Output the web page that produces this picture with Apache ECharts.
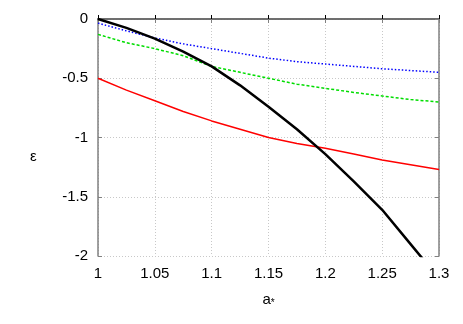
<!DOCTYPE html>
<html>
<head>
<meta charset="utf-8">
<script src="https://cdn.jsdelivr.net/npm/echarts@6/dist/echarts.min.js"></script>
<style>
  html, body { margin: 0; padding: 0; background: #fff; }
  #chart { width: 463px; height: 324px; }
</style>
</head>
<body>
<div id="chart"></div>
<script>
// x values (a*)
var aStar = [1.0, 1.025, 1.05, 1.075, 1.1, 1.125, 1.15, 1.175, 1.2, 1.225, 1.25, 1.275, 1.3]
// epsilon curves
var blueVals = [-0.035, -0.1, -0.16, -0.21, -0.25, -0.29, -0.33, -0.36, -0.38, -0.4, -0.42, -0.435, -0.45]
var greenVals = [-0.13, -0.2, -0.25, -0.31, -0.4, -0.45, -0.5, -0.55, -0.585, -0.62, -0.65, -0.68, -0.7]
var redVals = [-0.5, -0.6, -0.69, -0.78, -0.86, -0.93, -1.0, -1.05, -1.09, -1.14, -1.19, -1.23, -1.27]
var blackVals = [0, -0.075, -0.165, -0.275, -0.4, -0.56, -0.74, -0.93, -1.14, -1.37, -1.61, -1.9, -2.19]

function pairs(ys) {
  return aStar.map(function (x, i) { return [x, ys[i]] })
}

var chart = echarts.init(document.getElementById('chart'))
var font = 'Liberation Sans'
var gridLine = { show: true, lineStyle: { color: '#c8c8c8', type: [1, 2], width: 1 } }

chart.setOption({
  animation: false,
  grid: { left: 98, right: 24, top: 19, bottom: 68 },
  xAxis: [{
    type: 'value', min: 1, max: 1.3, interval: 0.05,
    axisLine: { lineStyle: { color: '#000', width: 1.5 } },
    axisTick: { inside: true, length: 4, lineStyle: { color: '#000' } },
    axisLabel: { color: '#000', fontFamily: font, fontSize: 15, margin: 10 },
    splitLine: gridLine,
    name: 'a{s|*}', nameLocation: 'middle', nameGap: 36,
    nameTextStyle: { color: '#000', fontFamily: font, fontSize: 15,
      rich: { s: { fontSize: 10, verticalAlign: 'bottom', fontFamily: font, padding: [6, 0, 0, 0] } } }
  }, {
    type: 'value', min: 1, max: 1.3, interval: 0.05, position: 'top',
    axisLine: { lineStyle: { color: '#808080', width: 1.5 } },
    axisTick: { inside: true, length: 4, lineStyle: { color: '#808080' } },
    axisLabel: { show: false }, splitLine: { show: false }
  }],
  yAxis: [{
    type: 'value', min: -2, max: 0, interval: 0.5,
    axisLine: { show: true, lineStyle: { color: '#808080', width: 1.5 } },
    axisTick: { show: true, inside: true, length: 4, lineStyle: { color: '#808080' } },
    axisLabel: { color: '#000', fontFamily: font, fontSize: 15, margin: 10 },
    splitLine: gridLine
  }, {
    type: 'value', min: -2, max: 0, interval: 0.5, position: 'right',
    axisLine: { show: true, lineStyle: { color: '#808080', width: 1.5 } },
    axisTick: { show: true, inside: true, length: 4, lineStyle: { color: '#808080' } },
    axisLabel: { show: false }, splitLine: { show: false }
  }],
  graphic: [{
    type: 'text', left: 30, top: 149,
    style: { text: 'ε', font: '15px "Liberation Sans"', fill: '#000' }
  }],
  series: [
    { type: 'line', data: pairs(blueVals), showSymbol: false, clip: true,
      lineStyle: { color: '#0000ff', width: 1.5, type: [1.5, 2] } },
    { type: 'line', data: pairs(greenVals), showSymbol: false, clip: true,
      lineStyle: { color: '#00dd00', width: 1.5, type: [3, 2] } },
    { type: 'line', data: pairs(redVals), showSymbol: false, clip: true,
      lineStyle: { color: '#ff0000', width: 1.5 } },
    { type: 'line', data: pairs(blackVals), showSymbol: false, clip: true,
      lineStyle: { color: '#000', width: 2.5 } }
  ]
})
</script>
</body>
</html>
